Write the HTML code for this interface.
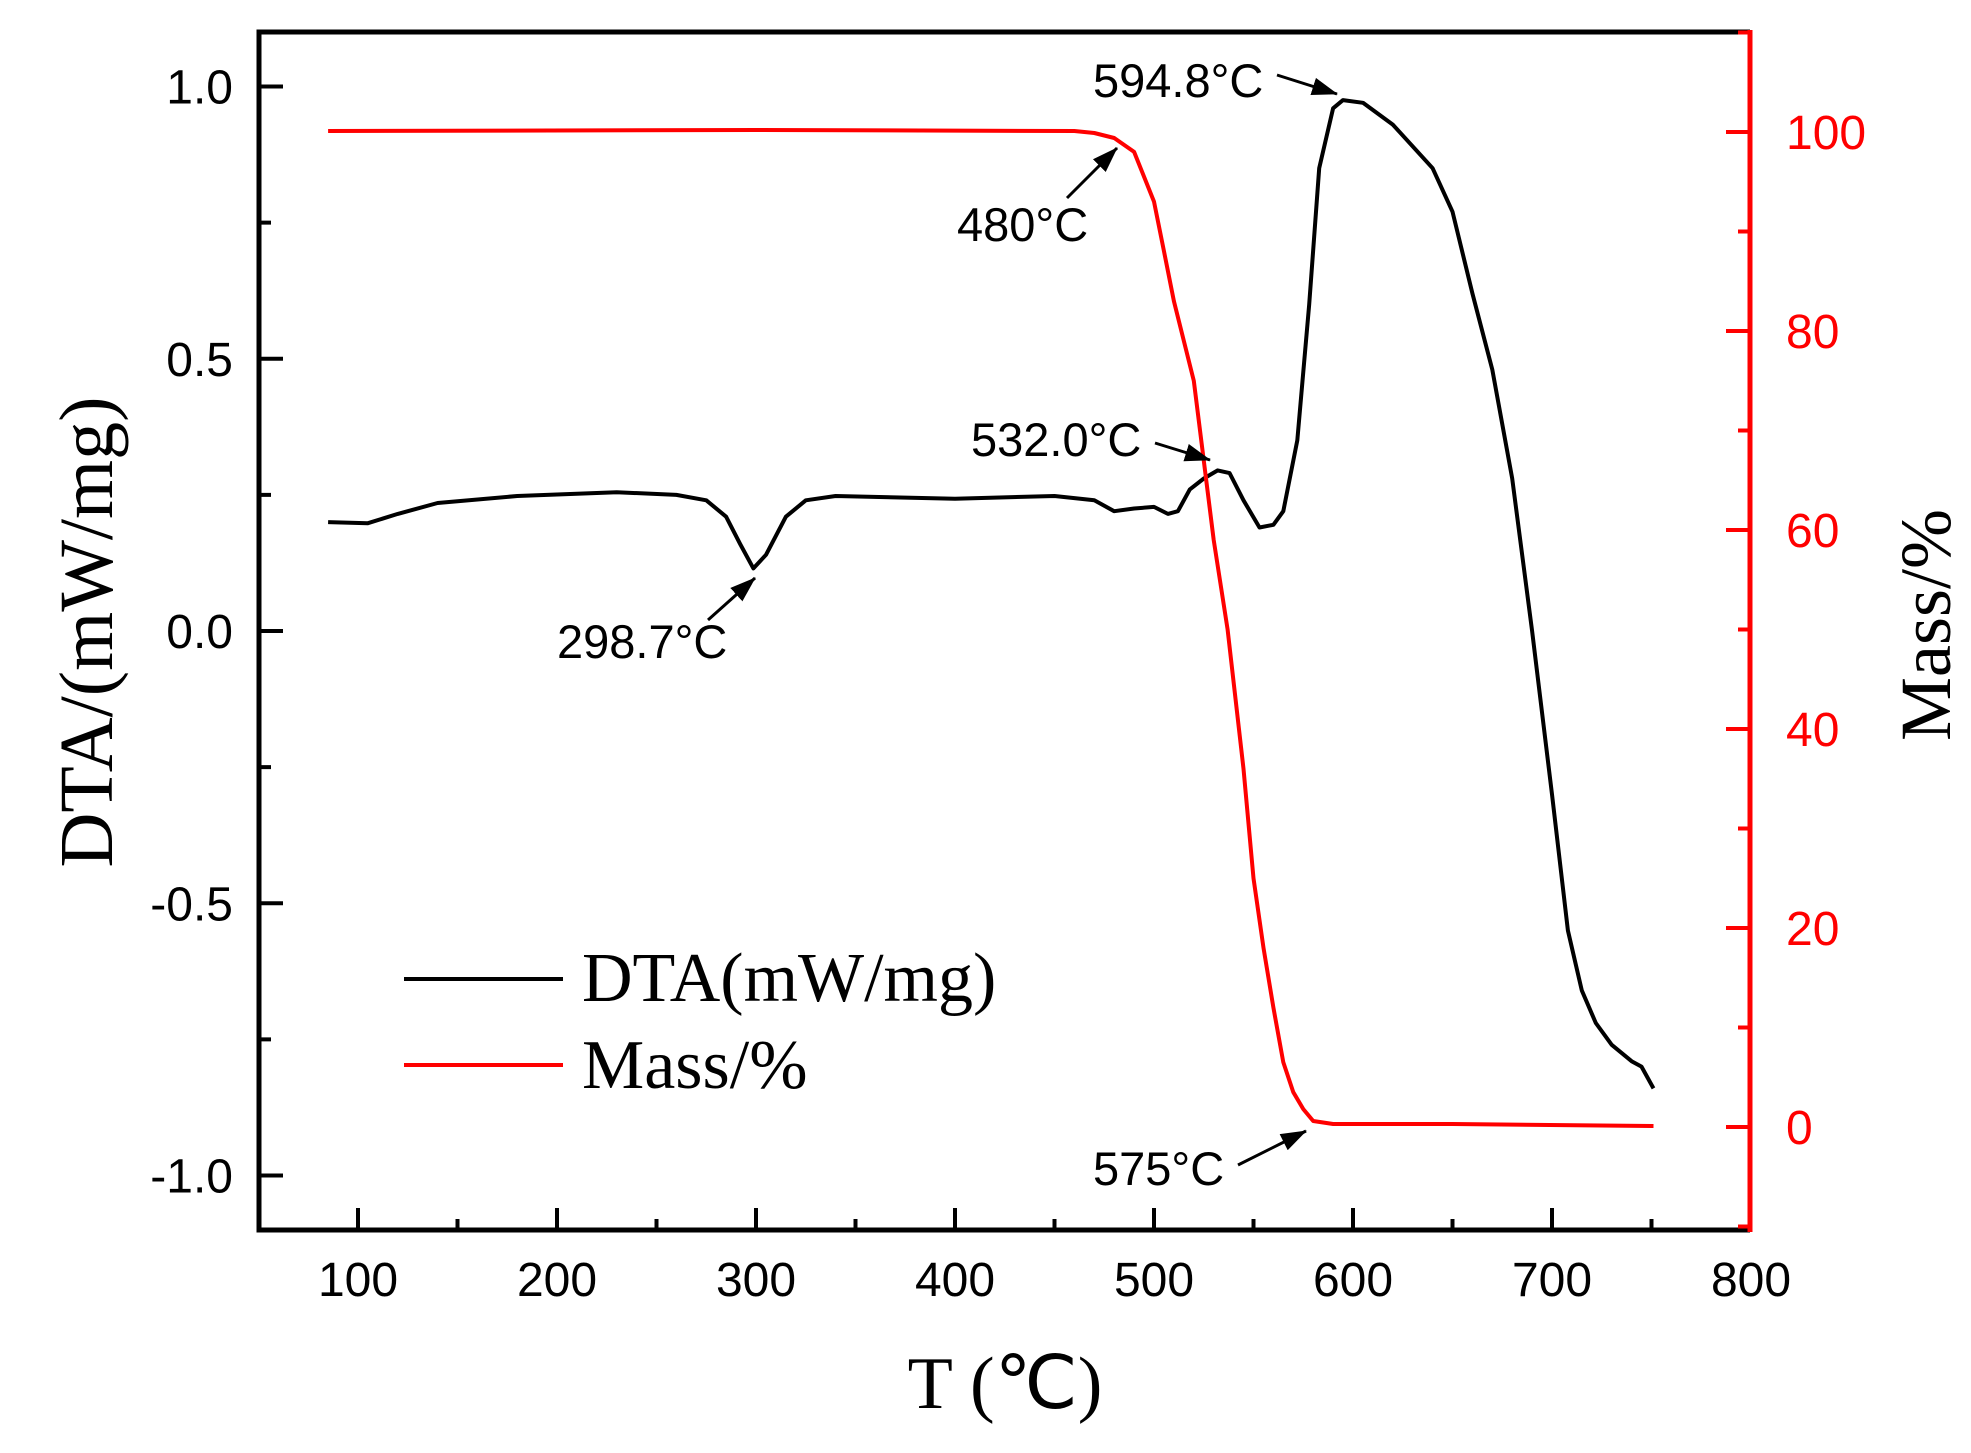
<!DOCTYPE html>
<html><head><meta charset="utf-8"><style>
html,body{margin:0;padding:0;background:#fff;}
svg{display:block;}
text{font-family:"Liberation Sans",Arial,sans-serif;}
.serif{font-family:"Liberation Serif","Times New Roman",serif;}
</style></head><body>
<svg id="chart" width="1971" height="1453" viewBox="0 0 1971 1453" xmlns="http://www.w3.org/2000/svg">
<g id="marks"></g>
<g id="axes"></g>
</svg>
<script>
const dtaT = [85,105,120,140,180,230,260,275,285,292,298.7,305,315,325,340,400,450,470,480,490,500,507,512,518,525,532,538,545,553,560,565,572,578,583,590,595,605,620,640,650,660,670,680,690,700,708,715,722,730,740,745,751];
const dtaV = [0.20,0.198,0.215,0.235,0.248,0.255,0.25,0.24,0.21,0.16,0.115,0.14,0.21,0.24,0.248,0.243,0.248,0.24,0.22,0.225,0.228,0.215,0.22,0.26,0.28,0.295,0.29,0.24,0.19,0.195,0.22,0.35,0.6,0.85,0.96,0.975,0.97,0.93,0.85,0.77,0.62,0.48,0.28,0.0,-0.3,-0.55,-0.66,-0.72,-0.76,-0.79,-0.80,-0.84];
const massT = [85,300,460,470,480,490,500,505,510,520,530,537,545,550,555,560,565,570,575,580,590,650,751];
const massV = [100.1,100.2,100.1,99.9,99.4,98,93,88,83,75,59,50,36,25,18,12,6.5,3.5,1.8,0.6,0.3,0.3,0.1];
const xTicks = [100,200,300,400,500,600,700,800];
const yTicksL = [1.0,0.5,0.0,-0.5,-1.0];
const yTicksR = [100,80,60,40,20,0];

const NS="http://www.w3.org/2000/svg";
const X0=259,X1=1750,Y0=32,Y1=1230;
const x=T=>358+(T-100)*1.99;
const yL=v=>86.5+(1-v)*544.5;
const yR=m=>132+(100-m)*9.95;
function mk(tag,attrs,parent,txt){const e=document.createElementNS(NS,tag);for(const k in attrs)e.setAttribute(k,attrs[k]);if(txt!==undefined)e.textContent=txt;parent.appendChild(e);return e;}
const marks=document.getElementById('marks'),axes=document.getElementById('axes');

let d=dtaT.map((t,i)=>(i?'L':'M')+x(t).toFixed(1)+','+yL(dtaV[i]).toFixed(1)).join('');
const dl=mk('path',{d:d,fill:'none',stroke:'#000','stroke-width':4,'stroke-linejoin':'round'},marks);


d=massT.map((t,i)=>(i?'L':'M')+x(t).toFixed(1)+','+yR(massV[i]).toFixed(1)).join('');
const ml=mk('path',{d:d,fill:'none',stroke:'#f00','stroke-width':4,'stroke-linejoin':'round'},marks);



const fr=mk('path',{d:`M${X1},${Y0}L${X0},${Y0}L${X0},${Y1}L${X1},${Y1}`,fill:'none',stroke:'#000','stroke-width':5},axes);


const ra=mk('line',{x1:X1,y1:Y0-2,x2:X1,y2:Y1+2,stroke:'#f00','stroke-width':5},axes);



xTicks.forEach(t=>{
  if(t<800)mk('line',{x1:x(t),y1:Y1,x2:x(t),y2:Y1-22,stroke:'#000','stroke-width':4},axes);
  if(t+50<800)mk('line',{x1:x(t+50),y1:Y1,x2:x(t+50),y2:Y1-11,stroke:'#000','stroke-width':4},axes);
  const tl=mk('text',{x:x(t),y:1296,'font-size':48,'text-anchor':'middle'},axes,String(t));
  
  
});
mk('line',{x1:x(50),y1:Y1,x2:x(50),y2:Y1-11,stroke:'#000','stroke-width':4},axes);
yTicksL.forEach(v=>{
  mk('line',{x1:X0,y1:yL(v),x2:X0+24,y2:yL(v),stroke:'#000','stroke-width':4},axes);
  if(v>-1)mk('line',{x1:X0,y1:yL(v-0.25),x2:X0+12,y2:yL(v-0.25),stroke:'#000','stroke-width':4},axes);
  const tl=mk('text',{x:233,y:yL(v)+17,'font-size':48,'text-anchor':'end'},axes,v.toFixed(1));
  
  
});
yTicksR.forEach(m=>{
  mk('line',{x1:X1,y1:yR(m),x2:X1-24,y2:yR(m),stroke:'#f00','stroke-width':4},axes);
  mk('line',{x1:X1,y1:yR(m-10),x2:X1-12,y2:yR(m-10),stroke:'#f00','stroke-width':4},axes);
  const tl=mk('text',{x:1786,y:yR(m)+17,'font-size':48,fill:'#f00'},axes,String(m));
  
  
});
mk('line',{x1:X1,y1:yR(110),x2:X1-12,y2:yR(110),stroke:'#f00','stroke-width':4},axes);
</script>
<svg style="position:absolute;left:0;top:0" width="1971" height="1453" xmlns="http://www.w3.org/2000/svg">
<defs><marker id="ah2" markerWidth="26" markerHeight="18" refX="25" refY="9" orient="auto" markerUnits="userSpaceOnUse" viewBox="0 0 26 18"><path d="M0,0 L26,9 L0,18 Z" fill="#000"/></marker></defs>
<text class="serif" x="1005" y="1408" font-size="74" text-anchor="middle">T (℃)</text>
<text class="serif" font-size="76" text-anchor="middle" transform="translate(112,632) rotate(-90)">DTA/(mW/mg)</text>
<text class="serif" font-size="72" text-anchor="middle" transform="translate(1950,625) rotate(-90)">Mass/%</text>
<g>
<line x1="404" y1="979" x2="563" y2="979" stroke="#000" stroke-width="4"/>
<text class="serif" x="582" y="1001" font-size="70">DTA(mW/mg)</text>
<line x1="404" y1="1065" x2="563" y2="1065" stroke="#f00" stroke-width="4"/>
<text class="serif" x="582" y="1088" font-size="70">Mass/%</text>
</g>
<g font-family="Liberation Sans, Arial, sans-serif" font-size="47">
<text x="1093" y="97">594.8°C</text>
<line x1="1277" y1="75" x2="1337" y2="94" stroke="#000" stroke-width="3" marker-end="url(#ah2)"/>
<text x="957" y="241">480°C</text>
<line x1="1067" y1="198" x2="1117" y2="148" stroke="#000" stroke-width="3" marker-end="url(#ah2)"/>
<text x="971" y="456">532.0°C</text>
<line x1="1155" y1="443" x2="1210" y2="460" stroke="#000" stroke-width="3" marker-end="url(#ah2)"/>
<text x="557" y="658">298.7°C</text>
<line x1="708" y1="620" x2="755" y2="578" stroke="#000" stroke-width="3" marker-end="url(#ah2)"/>
<text x="1093" y="1185">575°C</text>
<line x1="1238" y1="1165" x2="1306" y2="1131" stroke="#000" stroke-width="3" marker-end="url(#ah2)"/>
</g>
</svg>
</body></html>
